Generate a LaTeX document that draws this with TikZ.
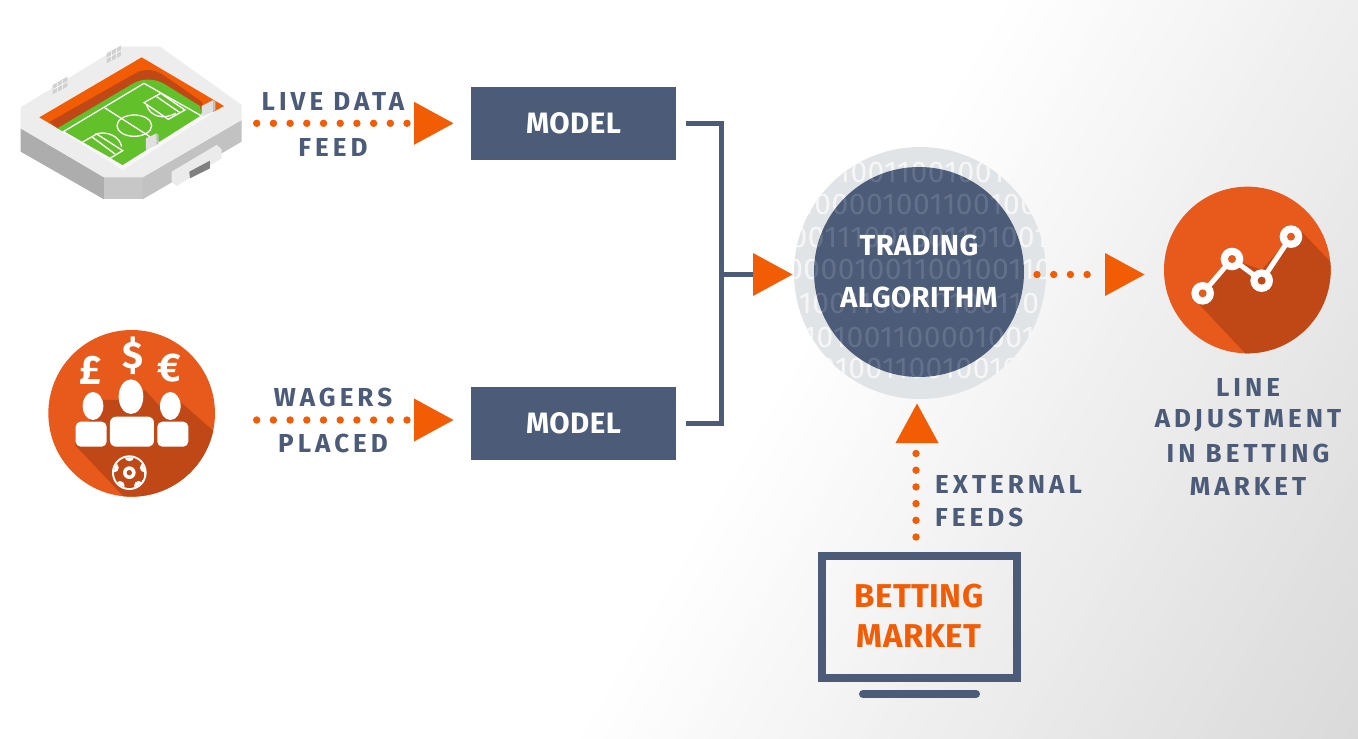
\documentclass[tikz,border=0pt]{standalone}
\usepackage{fontspec}
\setmainfont{Fira Sans}
\newfontfamily\spaced[LetterSpace=15.5]{Fira Sans}
\newfontfamily\tight[LetterSpace=1.5]{Fira Sans}
\usetikzlibrary{shapes.geometric}
\definecolor{navy}{HTML}{4B5B78}
\definecolor{orng}{HTML}{F25C05}
\definecolor{disc}{HTML}{E8591C}
\definecolor{shad}{HTML}{BF4816}
\definecolor{pale}{HTML}{E1E4E6}
\definecolor{turf}{HTML}{62C02A}
\tikzset{
  x=1pt,y=-1pt,
  tri/.style={isosceles triangle,isosceles triangle stretches,fill=orng,inner sep=0pt,minimum height=39.5pt,minimum width=43pt,outer sep=0pt,anchor=lower side},
  dots/.style={orng,line width=7.4pt,line cap=round,dash pattern=on 0pt off 16.7pt},
  modelbox/.style={fill=navy,text=white,minimum width=205pt,minimum height=73pt,inner sep=0pt,font=\fontsize{29.5}{31}\selectfont\tight\bfseries},
  lab/.style={text=navy,inner sep=0pt,font=\fontsize{26}{28}\selectfont\spaced\bfseries},
  big/.style={inner sep=0pt,font=\fontsize{29}{31}\selectfont\tight\bfseries},
  bigo/.style={inner sep=0pt,text=orng,font=\fontsize{33}{35}\selectfont\tight\bfseries},
  bits/.style={inner sep=0pt,font=\fontsize{30}{32}\selectfont\tight},
  sym/.style={text=white,inner sep=0pt},
}
\begin{document}
\begin{tikzpicture}
\useasboundingbox (0,0) rectangle (1358,739);
% background
\fill[white] (0,0) rectangle (1358,739);
\begin{scope}
\clip (0,0) rectangle (1358,739);
\begin{scope}[shift={(570,739)},rotate=-30.2]
\foreach \i in {0,...,69}{
  \pgfmathsetmacro{\v}{\i*15/69}
  \fill[black!\v] (\i*10,-1500) rectangle (\i*10+11,1500);
}
\end{scope}
\end{scope}

% stadium
\begin{scope}[shift={(0,30)},x=0.3333pt,y=-0.3333pt]
\fill[black!32] (62,295) -- (312,442) -- (312,508) -- (62,365) -- cycle;
\fill[black!22] (312,442) -- (428,442) -- (428,508) -- (312,508) -- cycle;
\fill[black!24] (428,442) -- (725,270) -- (725,335) -- (428,508) -- cycle;
\fill[black!7] (62,232) -- (360,50) -- (480,50) -- (725,225) -- (725,270) -- (428,442) -- (312,442) -- (62,295) -- cycle;
\fill[black!3] (118,262) -- (425,82) -- (672,228) -- (368,420) -- cycle;
\fill[orng] (118,262) -- (425,82) -- (672,228) -- (640,246) -- (605,232) -- (430,140) -- (165,290) -- cycle;
\fill[shad] (148,276) -- (415,125) .. controls (445,115) and (470,122) .. (490,135) -- (605,215) -- (610,240) -- (600,258) -- (175,297) -- cycle;
\fill[turf] (172,295) -- (400,160) .. controls (430,145) and (460,145) .. (490,160) -- (600,228) -- (605,258) -- (368,408) -- cycle;
\begin{scope}[white,line width=1.3pt]
\draw (190,305) -- (432,160) -- (605,258) -- (368,408) -- cycle;
\draw (312,232) -- (478,338);
\draw (403,287) ellipse [x radius=52,y radius=32];
\draw (432,218) -- (482,190) -- (555,240) -- (505,268) -- cycle;
\draw (470,200) -- (540,248);
\draw (440,225) .. controls (450,260) and (490,270) .. (528,250);
\draw (245,338) -- (290,312) -- (368,362) -- (330,385) -- cycle;
\draw (275,320) -- (345,372);
\draw (285,313) .. controls (320,300) and (360,320) .. (365,350);
\end{scope}
\fill[black!12] (605,228) -- (640,210) -- (640,245) -- (605,260) -- cycle;
\fill[black!22] (640,210) -- (646,214) -- (646,240) -- (640,245) -- cycle;
\fill[black!12] (438,325) -- (470,310) -- (470,345) -- (438,360) -- cycle;
\fill[black!25] (470,310) -- (476,314) -- (476,340) -- (470,345) -- cycle;
% gate
\fill[black!8] (515,425) -- (650,345) -- (665,358) -- (665,385) -- (530,468) -- (515,455) -- cycle;
\fill[black!50] (568,425) -- (630,392) -- (630,415) -- (570,445) -- cycle;
% floodlights
\fill[black!18] (158,165) -- (202,140) -- (202,170) -- (158,193) -- cycle;
\fill[black!18] (320,70) -- (363,47) -- (363,77) -- (320,100) -- cycle;
\begin{scope}[white,line width=.6pt]
\draw (172,158) -- (172,186) (187,150) -- (187,178) (158,179) -- (202,155);
\draw (334,62) -- (334,92) (349,55) -- (349,85) (320,85) -- (363,62);
\end{scope}
\end{scope}

% wagers icon
\begin{scope}[shift={(30,320)},x=0.3333pt,y=-0.3333pt]
\fill[disc] (305,280) circle [radius=250*0.3333pt];
\begin{scope}
\clip (305,280) circle [radius=250*0.3333pt];
\fill[shad] (135,375) -- (215,240) -- (270,240) -- (345,210) -- (390,260) -- (445,240) -- (570,350) -- (570,560) -- (310,560) -- cycle;
\end{scope}
\fill[white] (189,258) ellipse [x radius=31,y radius=42];
\fill[white] (421,258) ellipse [x radius=31,y radius=42];
\fill[white] (303,230) ellipse [x radius=37,y radius=52];
\fill[white,rounded corners=5pt] (137,305) rectangle (230,380);
\fill[white,rounded corners=5pt] (382,305) rectangle (475,380);
\fill[shad] (232,295) rectangle (380,385);
\fill[white,rounded corners=6pt] (240,290) rectangle (372,380);
\fill[white] (298,458) circle [radius=52*0.3333pt];
\begin{scope}
\clip (298,458) circle [radius=46*0.3333pt];
\fill[shad] (298,458) circle [radius=46*0.3333pt];
\foreach \a in {18,90,162,234,306}
  \fill[white] (298,458) ++(\a:48*0.3333pt) circle [radius=14*0.3333pt];
\end{scope}
\fill[white] (298,458) circle [radius=19*0.3333pt];
\fill[shad] (298,458) circle [radius=8*0.3333pt];
\node[sym,font=\fontsize{41}{43}\selectfont\bfseries] (pound) at (183,150) {£};
\node[sym,font=\fontsize{38}{40}\selectfont\bfseries] (dollar) at (309,108) {\$};
\node[sym,font=\fontsize{40}{42}\selectfont\bfseries] (euro) at (417,143) {€};
\end{scope}

% algorithm disc
\fill[pale] (920,273) circle [radius=126pt];
\begin{scope}
\clip (920,273) circle [radius=126pt];
\begin{scope}[every node/.style={bits,text=white,opacity=.7}]
\node (ra) at (919,172) {0100110010011};
\node (rb) at (919,204) {100001001100100};
\node (rc) at (919,237) {00111001001101001};
\node (rd) at (919,269) {00001001100100110};
\node (re) at (919,303) {1001100110100110};
\node (rf) at (919,337) {101001100001001};
\node (rg) at (919,368) {0100110010010};
\end{scope}
\end{scope}
\fill[navy] (919,272) circle [radius=105pt];
\begin{scope}
\clip (919,272) circle [radius=105pt];
\begin{scope}[every node/.style={bits,text=white,opacity=.13}]
\node (sa) at (919,172) {0100110010011};
\node (sb) at (919,204) {100001001100100};
\node (sc) at (919,237) {00111001001101001};
\node (sd) at (919,269) {00001001100100110};
\node (se) at (919,303) {1001100110100110};
\node (sf) at (919,337) {101001100001001};
\node (sg) at (919,368) {0100110010010};
\end{scope}
\end{scope}
\node[big,text=white] (trading) at (919,245) {TRADING};
\node[big,text=white] (algo) at (919,297) {ALGORITHM};

% trend icon
\begin{scope}[shift={(1090,170)},x=0.3333pt,y=-0.3333pt]
\fill[disc] (472,300) circle [radius=250*0.3333pt];
\begin{scope}
\clip (472,300) circle [radius=250*0.3333pt];
\fill[shad] (325,400) -- (475,560) -- (740,560) -- (740,295) -- (635,185) -- (603,200) -- (515,300) -- (426,267) -- (338,370) -- cycle;
\end{scope}
\draw[white,line width=5pt] (338,370) -- (426,267) -- (515,332) -- (603,200);
\foreach \p/\c in {338/370,426/267,515/332,603/200}{
  \fill[white] (\p,\c) circle [radius=34*0.3333pt];
}
\fill[disc] (338,370) circle [radius=12*0.3333pt];
\fill[disc] (426,267) circle [radius=12*0.3333pt];
\fill[shad] (515,332) circle [radius=12*0.3333pt];
\fill[disc] (603,200) circle [radius=12*0.3333pt];
\end{scope}

% boxes
\node[modelbox] (m1) at (573.5,123.5) {MODEL};
\node[modelbox] (m2) at (573.5,423.5) {MODEL};

% triangles
\node[tri] (t1) at (414,123.3) {};
\node[tri] (t2) at (414,420) {};
\node[tri] (t3) at (753,274.5) {};
\node[tri] (t4) at (1105,274.5) {};
\node[tri,shape border rotate=90] (t5) at (917,443) {};

% connector anchors
\coordinate (s1) at (256.7,123.3);
\coordinate (s2) at (256.7,420);
\coordinate (s3) at (1037,274.5);
\coordinate (s4) at (916,537);
\coordinate (e1) at (407.5,123.3);
\coordinate (e2) at (407.5,420);
\coordinate (e3) at (1088,274.5);
\coordinate (e4) at (916,452);
\coordinate (b1) at (721,123.5);
\coordinate (b2) at (721,423.5);
\coordinate (b3) at (721,274.5);

\draw[dots] (s1) -- (e1);
\draw[dots] (s2) -- (e2);
\draw[dots] (s3) -- (e3);
\draw[dots] (s4) -- (e4);
\draw[navy,line width=5pt] ([xshift=10pt]m1.east) -- (b1) -- (b2) -- ([xshift=10pt]m2.east);
\draw[navy,line width=5pt] (b3) -- (t3.lower side);

% labels
\node[lab] (l1) at (333,101) {LIVE DATA};
\node[lab] (l2) at (333,147) {FEED};
\node[lab] (l3) at (333,397) {WAGERS};
\node[lab] (l4) at (333,443) {PLACED};
\node[lab,anchor=west] (l5) at (935,484) {EXTERNAL};
\node[lab,anchor=west] (l6) at (935,517) {FEEDS};
\node[lab] (l7) at (1248,387) {LINE};
\node[lab] (l8) at (1248,420) {ADJUSTMENT};
\node[lab] (l9) at (1248,453) {IN BETTING};
\node[lab] (l10) at (1248,486) {MARKET};

% monitor
\node[draw=navy,line width=8pt,minimum width=195pt,minimum height=122pt,inner sep=0pt] (screen) at (919.5,617) {};
\node[bigo] (bm1) at (919,596) {BETTING};
\node[bigo] (bm2) at (919,636) {MARKET};
\coordinate (st1) at (863,694);
\coordinate (st2) at (976,694);
\draw[navy,line width=8pt,line cap=round] (st1) -- (st2);
\end{tikzpicture}
\end{document}
